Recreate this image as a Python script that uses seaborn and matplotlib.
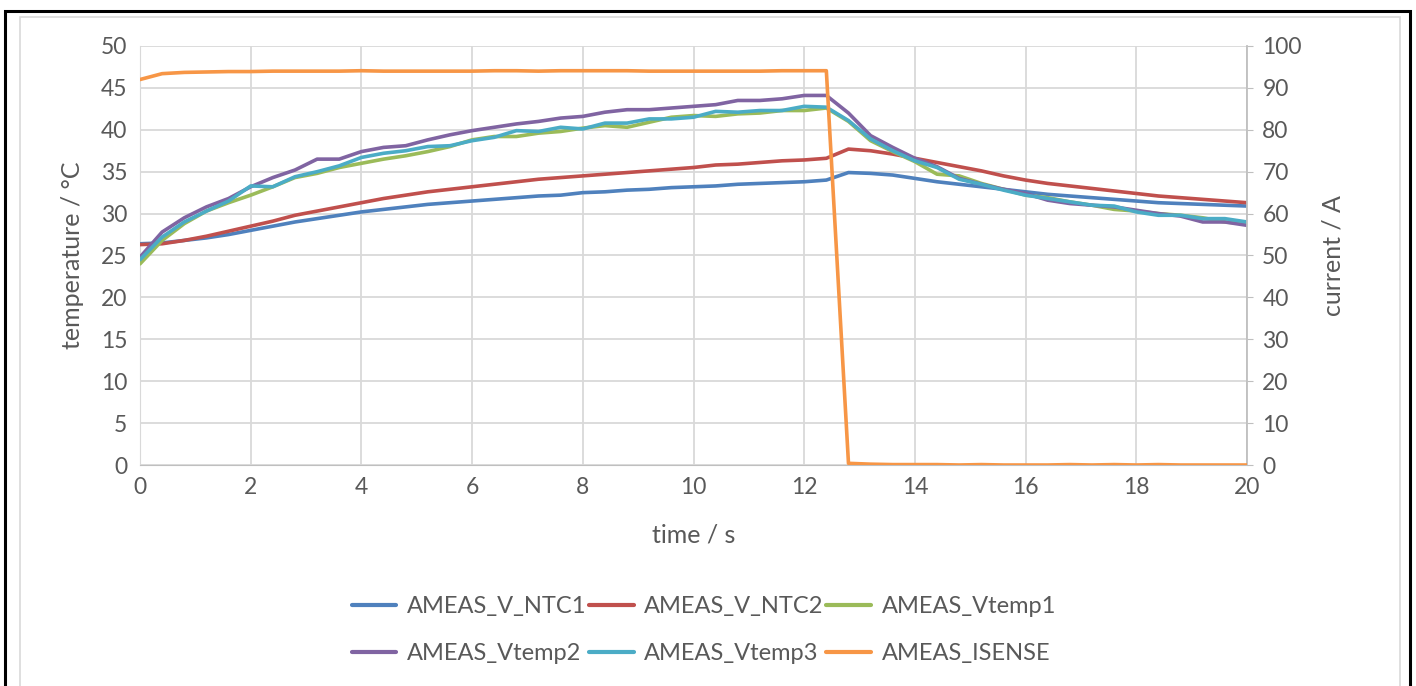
import numpy as np
import pandas as pd
import matplotlib
matplotlib.use("Agg")
import matplotlib.pyplot as plt
import seaborn as sns
from matplotlib.lines import Line2D
from matplotlib.patches import Rectangle

# time axis: one sample every 0.4 s
time_s = [round(0.4 * i, 1) for i in range(51)]

ntc1 = [26.4, 26.5, 26.8, 27.1, 27.5, 28.0, 28.5, 29.0, 29.4, 29.8, 30.2,
        30.5, 30.8, 31.1, 31.3, 31.5, 31.7, 31.9, 32.1, 32.2, 32.5,
        32.6, 32.8, 32.9, 33.1, 33.2, 33.3, 33.5, 33.6, 33.7, 33.8,
        34.0, 34.9, 34.8, 34.6, 34.2, 33.8, 33.5, 33.2, 32.9, 32.6,
        32.3, 32.1, 31.9, 31.7, 31.5, 31.3, 31.2, 31.1, 31.0, 30.9]
ntc2 = [26.3, 26.4, 26.8, 27.3, 27.9, 28.5, 29.1, 29.8, 30.3, 30.8, 31.3,
        31.8, 32.2, 32.6, 32.9, 33.2, 33.5, 33.8, 34.1, 34.3, 34.5,
        34.7, 34.9, 35.1, 35.3, 35.5, 35.8, 35.9, 36.1, 36.3, 36.4,
        36.6, 37.7, 37.5, 37.1, 36.6, 36.1, 35.6, 35.1, 34.5, 34.0,
        33.6, 33.3, 33.0, 32.7, 32.4, 32.1, 31.9, 31.7, 31.5, 31.3]
vtemp1 = [24.0, 26.8, 28.8, 30.3, 31.3, 32.2, 33.2, 34.3, 34.8, 35.5, 36.0,
          36.5, 36.9, 37.4, 38.0, 38.8, 39.2, 39.2, 39.6, 39.8, 40.2,
          40.5, 40.3, 40.9, 41.5, 41.7, 41.6, 41.9, 42.0, 42.3, 42.3,
          42.6, 41.0, 38.7, 37.4, 36.2, 34.7, 34.5, 33.6, 32.9, 32.2,
          31.9, 31.4, 31.0, 30.5, 30.3, 30.0, 29.8, 29.5, 29.0, 28.8]
vtemp2 = [24.8, 27.8, 29.5, 30.8, 31.8, 33.2, 34.3, 35.2, 36.5, 36.5, 37.4,
          37.9, 38.1, 38.8, 39.4, 39.9, 40.3, 40.7, 41.0, 41.4, 41.6,
          42.1, 42.4, 42.4, 42.6, 42.8, 43.0, 43.5, 43.5, 43.7, 44.1,
          44.1, 42.0, 39.3, 37.9, 36.6, 35.6, 34.2, 33.5, 32.9, 32.4,
          31.6, 31.2, 31.0, 30.8, 30.4, 30.0, 29.7, 29.0, 29.0, 28.6]
vtemp3 = [24.5, 27.2, 29.0, 30.3, 31.5, 33.3, 33.2, 34.4, 35.0, 35.7, 36.7,
          37.2, 37.5, 38.0, 38.1, 38.7, 39.1, 39.9, 39.8, 40.3, 40.1,
          40.8, 40.8, 41.3, 41.3, 41.5, 42.2, 42.1, 42.3, 42.3, 42.8,
          42.7, 41.1, 38.9, 37.5, 36.3, 35.5, 34.1, 33.5, 32.8, 32.2,
          31.8, 31.4, 31.0, 30.9, 30.2, 29.8, 29.8, 29.4, 29.4, 29.0]
isense = [92.0, 93.4, 93.7, 93.8, 93.9, 93.9, 94.0, 94.0, 94.0, 94.0, 94.1,
          94.0, 94.0, 94.0, 94.0, 94.0, 94.1, 94.1, 94.0, 94.1, 94.1,
          94.1, 94.1, 94.0, 94.0, 94.0, 94.0, 94.0, 94.0, 94.1, 94.1,
          94.1, 0.4, 0.2, 0.1, 0.1, 0.1, 0.0, 0.1, 0.0, 0.0,
          0.0, 0.1, 0.0, 0.1, 0.0, 0.1, 0.0, 0.0, 0.0, 0.0]

temp_names = ["AMEAS_V_NTC1", "AMEAS_V_NTC2", "AMEAS_Vtemp1",
              "AMEAS_Vtemp2", "AMEAS_Vtemp3"]
colors = {"AMEAS_V_NTC1": "#4F81BD", "AMEAS_V_NTC2": "#C0504D",
          "AMEAS_Vtemp1": "#9BBB59", "AMEAS_Vtemp2": "#8064A2",
          "AMEAS_Vtemp3": "#4BACC6", "AMEAS_ISENSE": "#F79646"}

df = pd.DataFrame({"time": time_s, "AMEAS_V_NTC1": ntc1, "AMEAS_V_NTC2": ntc2,
                   "AMEAS_Vtemp1": vtemp1, "AMEAS_Vtemp2": vtemp2,
                   "AMEAS_Vtemp3": vtemp3, "AMEAS_ISENSE": isense})
long_df = df.melt(id_vars="time", value_vars=temp_names,
                  var_name="signal", value_name="temp")

sns.set_style("white")
plt.rcParams["font.family"] = ["Lato", "DejaVu Sans"]
txt = "#595959"
grid_c = "#D9D9D9"

fig = plt.figure(figsize=(14.16, 6.86), dpi=100)
ax = fig.add_axes([140 / 1416, 1 - 465 / 686, 1107 / 1416, 419 / 686])

lw = 2.6
sns.lineplot(data=long_df, x="time", y="temp", hue="signal", hue_order=temp_names,
             palette=colors, linewidth=lw, legend=False, ax=ax, zorder=3)
ax2 = ax.twinx()
sns.lineplot(data=df, x="time", y="AMEAS_ISENSE", color=colors["AMEAS_ISENSE"],
             linewidth=lw, legend=False, ax=ax2, zorder=3)

ax.set_xlim(0, 20)
ax.set_ylim(0, 50)
ax2.set_ylim(0, 100)
ax.set_xticks(range(0, 21, 2))
ax.set_yticks(range(0, 51, 5))
ax2.set_yticks(range(0, 101, 10))

ax.grid(True, color=grid_c, linewidth=1.3)
ax.set_axisbelow(True)
ax2.grid(False)
for a in (ax, ax2):
    for s in a.spines.values():
        s.set_visible(False)
ax.spines["bottom"].set_visible(True)
ax.spines["bottom"].set_color("#BFBFBF")
ax.spines["left"].set_visible(True)
ax.spines["left"].set_color(grid_c)
ax2.spines["right"].set_visible(True)
ax2.spines["right"].set_color("#BFBFBF")
ax2.spines["right"].set_linewidth(1.3)

ax.tick_params(axis="both", length=0, labelsize=16.5, labelcolor=txt, pad=9)
ax2.tick_params(axis="y", length=4, color="#BFBFBF", labelsize=16.5,
                labelcolor=txt, pad=7)

ax.set_xlabel("time / s", fontsize=18, color=txt, labelpad=18)
ax.set_ylabel("temperature / °C", fontsize=18, color=txt, labelpad=12)
ax2.set_ylabel("current / A", fontsize=18, color=txt, labelpad=14)

# legend is filled column by column, so order entries to read row-wise
legend_order = ["AMEAS_V_NTC1", "AMEAS_Vtemp2", "AMEAS_V_NTC2",
                "AMEAS_Vtemp3", "AMEAS_Vtemp1", "AMEAS_ISENSE"]
handles = [Line2D([], [], color=colors[n], linewidth=3) for n in legend_order]
fig.legend(handles, legend_order, ncol=3, loc="center",
           bbox_to_anchor=(0.497, 1 - 630 / 686),
           frameon=False, fontsize=17, labelcolor=txt, handlelength=1.9,
           handletextpad=0.45, columnspacing=0.1, labelspacing=1.1)

# chart frames
fig.patches.append(Rectangle((20 / 1416, -0.01), 1380 / 1416, 1 - 17 / 686 + 0.01,
                             transform=fig.transFigure, fill=False,
                             edgecolor=grid_c, linewidth=1.2))
fig.patches.append(Rectangle((5 / 1416, -0.01), 1405 / 1416, 1 - 11 / 686 + 0.01,
                             transform=fig.transFigure, fill=False,
                             edgecolor="black", linewidth=2.2))

fig.savefig("out.png", dpi=100)
